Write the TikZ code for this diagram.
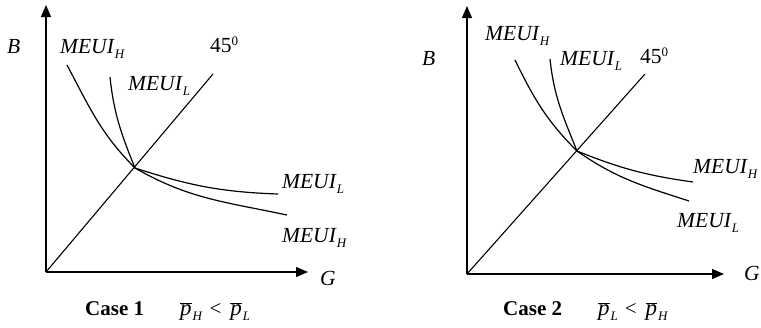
\documentclass[tikz,border=0pt]{standalone}
\usepackage{fontspec}
\setmainfont{Liberation Serif}
\usetikzlibrary{arrows.meta, calc}
\definecolor{ink}{HTML}{000000}
\tikzset{
  font=\fontsize{21.5}{24}\selectfont,
  axis/.style={-{Triangle[length=12pt, width=10pt]}, draw=ink, line width=1.3pt},
  diag/.style={draw=ink, line width=1.1pt},
  meui/.style={draw=ink, line width=1.2pt},
  lbl/.style={text=ink, inner sep=0pt, anchor=base west},
  capt/.style={text=ink, inner sep=0pt, anchor=base west, font=\fontsize{21}{24}\selectfont},
}
\newcommand{\sublab}[1]{\raisebox{-5pt}{\fontsize{13}{13}\selectfont\textit{#1}}}
\newcommand{\meuilab}[1]{\textit{MEUI}\sublab{#1}}
\newcommand{\pbar}[1]{$\overline{\mbox{\fontsize{23}{24}\selectfont\textit{p}}}$\hspace{1pt}\sublab{#1}}

\begin{document}
\begin{tikzpicture}[x=1pt, y=-1pt]
  \useasboundingbox (0,0) rectangle (761,327);

  % --- case 1 (left panel) ---
  \coordinate (o1)  at (46,272);
  \coordinate (yt1) at (46,5);
  \coordinate (xt1) at (308,272);
  \coordinate (d1)  at (213,74);
  \coordinate (x1)  at (135,168);
  \coordinate (hs1) at (67,65);
  \coordinate (he1) at (287,215);
  \coordinate (ls1) at (110,77);
  \coordinate (le1) at (278,194);

  \draw[axis] (o1) -- (yt1);
  \draw[axis] (o1) -- (xt1);
  \draw[diag] (o1) -- (d1);
  \draw[meui] (hs1) to[out=-62, in=135] (x1) to[out=-30, in=168] (he1);
  \draw[meui] (ls1) to[out=-84, in=112] (x1) to[out=-18, in=178] (le1);

  \node[lbl] (b1)    at (7,53)    {\textit{B}};
  \node[lbl] (g1)    at (320,285) {\textit{G}};
  \node[lbl] (deg1)  at (210,52)  {45\raisebox{7pt}{\fontsize{13}{13}\selectfont 0}};
  \node[lbl] (mh1)   at (60,53)   {\meuilab{H}};
  \node[lbl] (ml1)   at (128,90)  {\meuilab{L}};
  \node[lbl] (mlr1)  at (282,188) {\meuilab{L}};
  \node[lbl] (mhr1)  at (282,242) {\meuilab{H}};
  \node[capt] (cap1) at (85,315)  {\textbf{Case 1}\hspace{36pt}\pbar{H}\hspace{7pt}<\hspace{9pt}\pbar{L}};

  % --- case 2 (right panel) ---
  \coordinate (o2)  at (467,274);
  \coordinate (yt2) at (467,6);
  \coordinate (xt2) at (724,274);
  \coordinate (d2)  at (645,74);
  \coordinate (x2)  at (577,151);
  \coordinate (hs2) at (515,60);
  \coordinate (he2) at (693,182);
  \coordinate (ls2) at (550,59);
  \coordinate (le2) at (689,201);

  \draw[axis] (o2) -- (yt2);
  \draw[axis] (o2) -- (xt2);
  \draw[diag] (o2) -- (d2);
  \draw[meui] (hs2) to[out=-64, in=135] (x2) to[out=-22, in=172] (he2);
  \draw[meui] (ls2) to[out=-84, in=112] (x2) to[out=-35, in=162] (le2);

  \node[lbl] (b2)    at (422,65)  {\textit{B}};
  \node[lbl] (g2)    at (744,280) {\textit{G}};
  \node[lbl] (deg2)  at (640,63)  {45\raisebox{7pt}{\fontsize{13}{13}\selectfont 0}};
  \node[lbl] (mh2)   at (485,40)  {\meuilab{H}};
  \node[lbl] (ml2)   at (560,65)  {\meuilab{L}};
  \node[lbl] (mhr2)  at (693,173) {\meuilab{H}};
  \node[lbl] (mlr2)  at (677,227) {\meuilab{L}};
  \node[capt] (cap2) at (503,315) {\textbf{Case 2}\hspace{36pt}\pbar{L}\hspace{7pt}<\hspace{9pt}\pbar{H}};
\end{tikzpicture}
\end{document}
